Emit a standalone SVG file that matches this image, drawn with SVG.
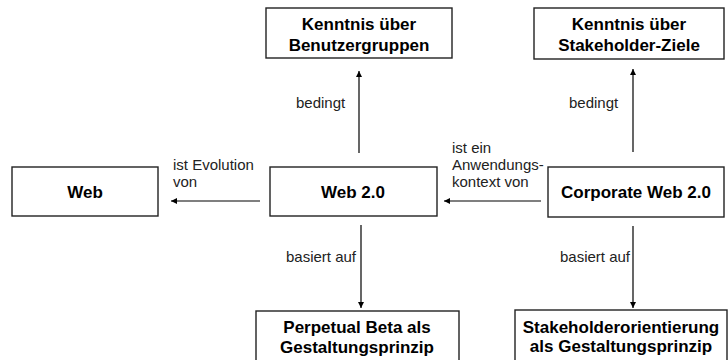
<svg xmlns="http://www.w3.org/2000/svg" width="728" height="360" viewBox="0 0 728 360">
<defs>
<style>
.box{fill:#fff;stroke:#222;stroke-width:1.4}
.t{font-family:"Liberation Sans",Arial,sans-serif;font-weight:bold;font-size:17px;fill:#000;text-anchor:middle}
.l{font-family:"Liberation Sans",Arial,sans-serif;font-size:15px;fill:#222}
.c{stroke:#000;stroke-width:1.2;fill:none;marker-end:url(#ah)}
</style>
<marker id="ah" viewBox="0 0 10 10" refX="10" refY="5" markerWidth="6" markerHeight="6" markerUnits="userSpaceOnUse" orient="auto">
<path d="M0,0 L10,5 L0,10 z" fill="#000"/>
</marker>
</defs>
<rect width="728" height="360" fill="#fff"/>
<g id="n-benutzer">
<rect class="box" x="266" y="8" width="186" height="50"/>
<text class="t" x="359" y="30">Kenntnis über</text>
<text class="t" x="359" y="51">Benutzergruppen</text>
</g>
<g id="n-stakeholderziele">
<rect class="box" x="534" y="8" width="190" height="51"/>
<text class="t" x="629" y="30">Kenntnis über</text>
<text class="t" x="629" y="51">Stakeholder-Ziele</text>
</g>
<g id="n-web">
<rect class="box" x="12" y="167" width="146" height="49"/>
<text class="t" x="85" y="198">Web</text>
</g>
<g id="n-web20">
<rect class="box" x="270" y="167" width="167" height="49"/>
<text class="t" x="353" y="198">Web 2.0</text>
</g>
<g id="n-corporate">
<rect class="box" x="548" y="167" width="176" height="50"/>
<text class="t" x="636" y="198">Corporate Web 2.0</text>
</g>
<g id="n-perpetual">
<rect class="box" x="256" y="311" width="203" height="55"/>
<text class="t" x="357" y="333">Perpetual Beta als</text>
<text class="t" x="357" y="353">Gestaltungsprinzip</text>
</g>
<g id="n-stakeholderorientierung">
<rect class="box" x="515" y="310" width="212" height="56"/>
<text class="t" x="621" y="333">Stakeholderorientierung</text>
<text class="t" x="621" y="352">als Gestaltungsprinzip</text>
</g>
<g id="connectors">
<line class="c" x1="359" y1="153" x2="359" y2="71"/>
<line class="c" x1="633" y1="152" x2="633" y2="69"/>
<line class="c" x1="260" y1="201" x2="171" y2="201"/>
<line class="c" x1="541" y1="201" x2="444" y2="201"/>
<line class="c" x1="361" y1="225" x2="361" y2="308"/>
<line class="c" x1="633" y1="226" x2="633" y2="308"/>
<text class="l" x="296" y="108">bedingt</text>
<text class="l" x="569" y="108">bedingt</text>
<text class="l" x="173" y="170">ist Evolution</text>
<text class="l" x="173" y="187">von</text>
<text class="l" x="452" y="153">ist ein</text>
<text class="l" x="452" y="170">Anwendungs-</text>
<text class="l" x="452" y="187">kontext von</text>
<text class="l" x="286" y="262">basiert auf</text>
<text class="l" x="560" y="262">basiert auf</text>
</g>
</svg>
